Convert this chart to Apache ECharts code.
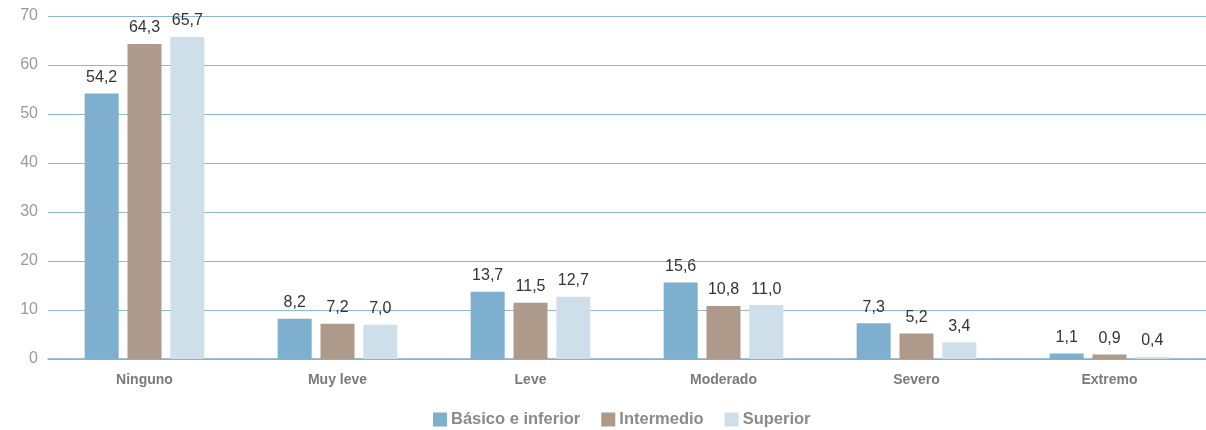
<!DOCTYPE html>
<html><head><meta charset="utf-8">
<script src="https://cdn.jsdelivr.net/npm/echarts@6/dist/echarts.min.js"></script>
<style>html,body{margin:0;padding:0;background:#fff}#c{width:1206px;height:430px}</style>
</head><body><div id="c"></div>
<script>
const categories = ['Ninguno','Muy leve','Leve','Moderado','Severo','Extremo'];
const seriesNames = ['Básico e inferior','Intermedio','Superior'];
const basico = [54.2, 8.2, 13.7, 15.6, 7.3, 1.1];
const intermedio = [64.3, 7.2, 11.5, 10.8, 5.2, 0.9];
const superior = [65.7, 7.0, 12.7, 11.0, 3.4, 0.4];
const colors = ['#7fafcf', '#ad9a8a', '#cedfea'];
const data = [basico, intermedio, superior];

const chart = echarts.init(document.getElementById('c'), null, {renderer:'canvas'});
chart.setOption({
  animation: false,
  grid: {left: 48, right: 0, top: 16, bottom: 71},
  legend: {
    top: 406, left: 428, itemWidth: 14, itemHeight: 14, itemGap: 21,
    icon: 'rect',
    textStyle: {color: '#8a8a8a', fontSize: 16.5, fontWeight: 'bold', fontFamily: 'Liberation Sans', padding: [0,0,0,-1]},
    data: seriesNames
  },
  xAxis: {
    type: 'category', data: categories,
    axisLine: {lineStyle: {color: '#7fafcf', width: 1.5}},
    axisTick: {show: false},
    axisLabel: {color: '#7a7a7a', fontSize: 14, fontWeight: 'bold', margin: 14, fontFamily: 'Liberation Sans'}
  },
  yAxis: {
    type: 'value', min: 0, max: 70, interval: 10,
    axisLine: {show: false}, axisTick: {show: false},
    axisLabel: {color: '#9a9a9a', fontSize: 16, margin: 10, fontFamily: 'Liberation Sans'},
    splitLine: {lineStyle: {color: '#8db8d4', width: 1.2}}
  },
  series: data.map((d, i) => ({
    name: seriesNames[i], type: 'bar', data: d,
    barWidth: 34, barGap: '26%',
    itemStyle: {color: colors[i]},
    label: {
      show: true, position: 'top', distance: 8,
      color: '#333', fontSize: 16, fontFamily: 'Liberation Sans',
      formatter: p => p.value.toFixed(1).replace('.', ',')
    }
  }))
});
</script></body></html>
